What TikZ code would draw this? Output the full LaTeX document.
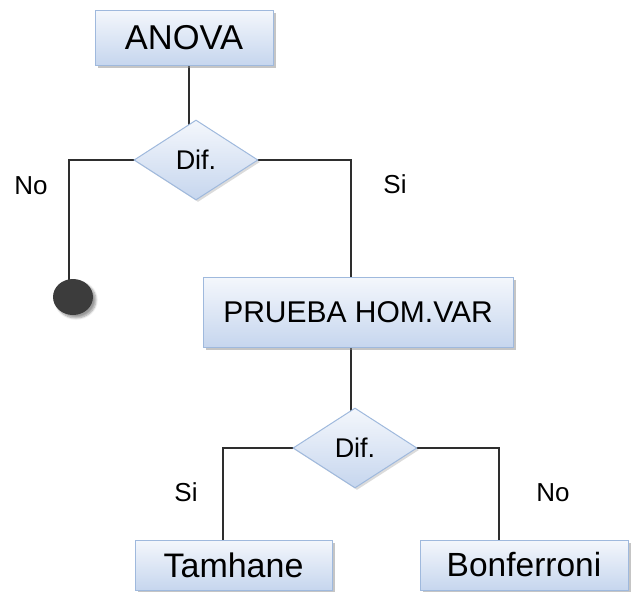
\documentclass[tikz,border=0pt]{standalone}
\usepackage{fontspec}
\setmainfont{Liberation Sans}
\usetikzlibrary{shapes.geometric,shadows,shadows.blur,backgrounds}

\definecolor{boxtop}{HTML}{F4F7FC}
\definecolor{boxbottom}{HTML}{C6D6EE}
\definecolor{boxline}{HTML}{9FB9DD}
\definecolor{wire}{HTML}{2E2E2E}
\definecolor{stopdot}{HTML}{3C3C3C}

\tikzset{
  procbox/.style={rectangle, draw=boxline, line width=1pt,
    top color=boxtop, bottom color=boxbottom,
    drop shadow={shadow xshift=3pt, shadow yshift=-3pt, fill=black!45, opacity=.5},
    inner sep=0pt, anchor=center},
  decision/.style={diamond, draw=boxline, line width=1pt,
    top color=boxtop, bottom color=boxbottom,
    drop shadow={shadow xshift=2pt, shadow yshift=-2pt, fill=black!35, opacity=.4},
    inner sep=0pt, minimum width=124pt, minimum height=80pt,
    font=\fontsize{27}{30}\selectfont},
  endpoint/.style={ellipse, fill=stopdot, minimum width=40pt, minimum height=36pt,
    inner sep=0pt, blur shadow={shadow xshift=3pt, shadow yshift=-3pt, shadow blur steps=6}},
  branch/.style={font=\fontsize{26}{28}\selectfont, inner sep=0pt},
  wireline/.style={draw=wire, line width=1.3pt},
}

\begin{document}
\begin{tikzpicture}[x=1pt, y=-1pt]
  \useasboundingbox (0,0) rectangle (633,592);

  % process boxes
  \node[procbox, minimum width=178pt, minimum height=55pt,
        font=\fontsize{34.5}{37}\selectfont] (anova) at (184,37.5) {ANOVA};
  \node[procbox, minimum width=310pt, minimum height=70pt,
        font=\fontsize{30}{33}\selectfont] (prueba) at (358,312) {PRUEBA HOM.VAR};
  \node[procbox, minimum width=197pt, minimum height=50pt,
        font=\fontsize{34}{37}\selectfont] (tam) at (233.5,565) {Tamhane};
  \node[procbox, minimum width=208pt, minimum height=50pt,
        font=\fontsize{33.5}{36}\selectfont] (bon) at (524,565) {Bonferroni};

  % decisions
  \node[decision] (d1) at (196,160) {Dif.};
  \node[decision] (d2) at (355,448) {Dif.};

  % end of the "No" branch
  \node[endpoint] (stop) at (73,297) {};

  % branch corners, level with the decision tips
  \coordinate (c1) at (69,160);
  \coordinate (c2) at (351,160);
  \coordinate (c3) at (223,448);
  \coordinate (c4) at (499,448);

  % connectors, under the shapes
  \begin{pgfonlayer}{background}
    \draw[wireline] ([xshift=5pt]anova.south) -- ([xshift=5pt]anova.south |- d1.center);
    \draw[wireline] (d1.center) -- (c1) -- (c1 |- stop.center);
    \draw[wireline] (d1.center) -- (c2) -- (c2 |- prueba.center);
    \draw[wireline] (c2 |- prueba.center) -- (c2 |- d2.center);
    \draw[wireline] (d2.center) -- (c3) -- (c3 |- tam.center);
    \draw[wireline] (d2.center) -- (c4) -- (c4 |- bon.center);
  \end{pgfonlayer}

  % branch labels
  \node[branch] (lno1) at (31,186) {No};
  \node[branch] (lsi1) at (395,184) {Si};
  \node[branch] (lsi2) at (186,492) {Si};
  \node[branch] (lno2) at (553,493) {No};
\end{tikzpicture}
\end{document}
